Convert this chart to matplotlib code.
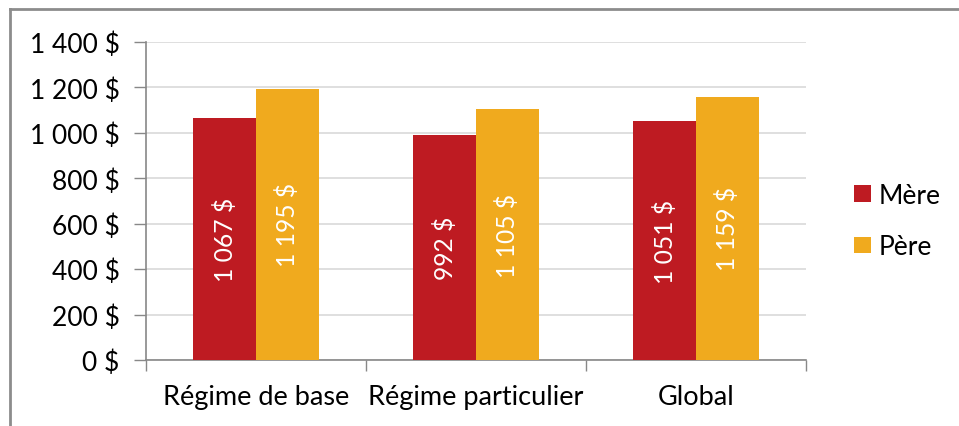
import matplotlib
matplotlib.use("Agg")
import matplotlib.pyplot as plt
from matplotlib.lines import Line2D
import numpy as np

categories = ["Régime de base", "Régime particulier", "Global"]
mere = [1067, 992, 1051]
pere = [1195, 1105, 1159]
series_names = ["Mère", "Père"]
yticks = [0, 200, 400, 600, 800, 1000, 1200, 1400]

def fmt(v):
    return f"{v:,}".replace(",", " ") + " $"

plt.rcParams['font.family'] = ['Lato', 'DejaVu Sans']
RED = "#BE1B22"
ORANGE = "#F0AA1E"

fig = plt.figure(figsize=(9.59, 4.27), dpi=100)
ax = fig.add_axes([146/959, 1-361/427, 660/959, 318/427])

x = np.arange(len(categories))
w = 0.286
b1 = ax.bar(x - w/2, mere, w, color=RED, label=series_names[0], zorder=3)
b2 = ax.bar(x + w/2, pere, w, color=ORANGE, label=series_names[1], zorder=3)

for xi, v in zip(x - w/2, mere):
    ax.text(xi, v/2, fmt(v), rotation=90, ha="center", va="center",
            color="white", fontsize=17.7, zorder=4)
for xi, v in zip(x + w/2, pere):
    ax.text(xi, v/2, fmt(v), rotation=90, ha="center", va="center",
            color="white", fontsize=17.7, zorder=4)

ax.set_xlim(-0.5, 2.5)
ax.set_ylim(0, 1400)
ax.set_yticks(yticks)
ax.set_yticklabels([fmt(v) for v in yticks], fontsize=19)
ax.yaxis.grid(True, color="#D9D9D9", linewidth=1.2, zorder=0)

ax.set_xticks([-0.5, 0.5, 1.5, 2.5])
ax.set_xticklabels([])
ax.set_xticks(x, minor=True)
ax.set_xticklabels(categories, minor=True, fontsize=19.5)
ax.tick_params(axis="x", which="minor", length=0, pad=17)
ax.tick_params(axis="x", which="major", length=8, color="#888888", width=1)
ax.tick_params(axis="y", length=9, color="#888888", width=1, pad=10)

for s in ["top", "right"]:
    ax.spines[s].set_visible(False)
for s in ["left", "bottom"]:
    ax.spines[s].set_color("#888888")
    ax.spines[s].set_linewidth(1.2)

leg = fig.legend(handles=[b1, b2], labels=series_names, loc="center left",
                 bbox_to_anchor=(854/959, 1-222/427), frameon=False,
                 fontsize=19, handlelength=0.65, handleheight=0.6,
                 handletextpad=0.3, labelspacing=1.0, borderpad=0,
                 borderaxespad=0)

# outer frame
fig.add_artist(Line2D([10/959, 10/959], [0, 1-10/427], color="#8C8C8C", lw=2.0, transform=fig.transFigure))
fig.add_artist(Line2D([10/959, 1], [1-10/427, 1-10/427], color="#8C8C8C", lw=2.0, transform=fig.transFigure))

fig.savefig("out.png", dpi=100)
